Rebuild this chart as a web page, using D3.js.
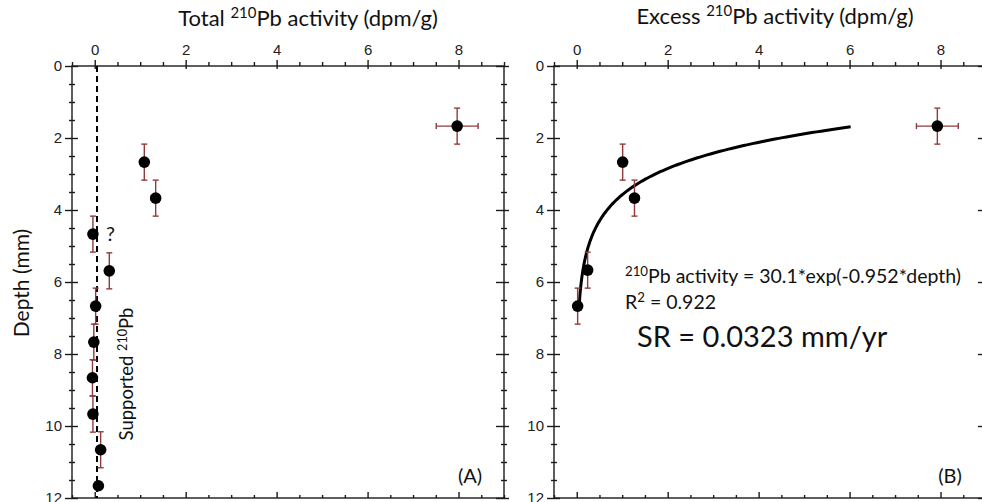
<!DOCTYPE html>
<html>
<head>
<meta charset="utf-8">
<script src="https://cdn.jsdelivr.net/npm/d3@7/dist/d3.min.js"></script>
<style>
  body { margin: 0; background: #fff; }
  .tick text { font-family: "Liberation Sans", Arial, sans-serif; font-size: 15px; fill: #222; }
  .tick line { stroke: #1a1a1a; stroke-width: 1.4; }
  .lbl { font-family: Lato, "Open Sans", sans-serif; fill: #111; }
</style>
</head>
<body>
<script>
// axis ticks
var xTicks = [0, 2, 4, 6, 8];
var yTicks = [0, 2, 4, 6, 8, 10, 12];

// panel A: total 210Pb
var totalDepth = [1.67, 2.67, 3.67, 4.67, 5.69, 6.67, 7.67, 8.66, 9.67, 10.66, 11.66];
var totalAct   = [7.97, 1.09, 1.34, -0.04, 0.32, 0.02, -0.02, -0.05, -0.04, 0.13, 0.08];
var totalXErr  = [0.46, 0.05, 0.1, 0, 0, 0, 0, 0, 0, 0.06, 0];
var totalYErr  = [0.5, 0.5, 0.5, 0.5, 0.5, 0.5, 0.5, 0.5, 0.5, 0.5, 0];
var supported = 0.05;

// panel B: excess 210Pb
var excessDepth = [1.67, 2.67, 3.67, 5.67, 6.67];
var excessAct   = [7.93, 1.01, 1.27, 0.24, 0.02];
var excessXErr  = [0.46, 0.05, 0.1, 0, 0];
var excessYErr  = [0.5, 0.5, 0.5, 0.5, 0.5];

// fit: activity = A*exp(-k*depth)
var fitA = 30.1, fitK = 0.952;
var fitDepthRange = [1.69, 6.7];

var width = 982, height = 502;
var yTop = 66, yBot = 498;
var errColor = "#8e3b3b";

var svg = d3.select("body").append("svg")
  .attr("width", width)
  .attr("height", height);

var y = d3.scaleLinear().domain([0, 12]).range([yTop, yBot]);
var minorX = d3.range(-0.5, 9.01, 0.5).filter(function(v) { return xTicks.indexOf(v) < 0; });
var minorY = d3.range(0, 12.01, 0.5).filter(function(v) { return yTicks.indexOf(v) < 0; });

function drawAxes(g, x, x0, x1) {
  function put(axis, tx, ty, labels) {
    var a = g.append("g").attr("transform", "translate(" + tx + "," + ty + ")").call(axis);
    a.select(".domain").remove();
    if (!labels) a.selectAll("text").remove();
    return a;
  }
  // top
  put(d3.axisTop(x).tickValues(xTicks).tickSize(6).tickPadding(5), 0, yTop, true);
  put(d3.axisBottom(x).tickValues(xTicks).tickSize(3), 0, yTop, false);
  put(d3.axisTop(x).tickValues(minorX).tickSize(4), 0, yTop, false);
  // bottom (inward ticks)
  put(d3.axisTop(x).tickValues(xTicks).tickSize(6), 0, yBot, false);
  put(d3.axisTop(x).tickValues(minorX).tickSize(3), 0, yBot, false);
  // left
  put(d3.axisLeft(y).tickValues(yTicks).tickSize(7).tickPadding(3), x0, 0, true);
  put(d3.axisRight(y).tickValues(yTicks).tickSize(6), x0, 0, false);
  put(d3.axisLeft(y).tickValues(minorY).tickSize(3), x0, 0, false);
  put(d3.axisRight(y).tickValues(minorY).tickSize(3), x0, 0, false);
  // right
  put(d3.axisLeft(y).tickValues(yTicks).tickSize(8), x1, 0, false);
  put(d3.axisRight(y).tickValues(yTicks).tickSize(5), x1, 0, false);
  put(d3.axisLeft(y).tickValues(minorY).tickSize(3), x1, 0, false);
  put(d3.axisRight(y).tickValues(minorY).tickSize(3), x1, 0, false);

  g.append("rect")
    .attr("x", x0).attr("y", yTop)
    .attr("width", x1 - x0).attr("height", yBot - yTop)
    .attr("fill", "none").attr("stroke", "#1a1a1a").attr("stroke-width", 1.4);
}

function drawPoints(g, x, depth, act, xerr, yerr) {
  var pts = depth.map(function(d, i) { return {d: d, a: act[i], xe: xerr[i], ye: yerr[i]}; });
  var eb = g.append("g").attr("stroke", errColor).attr("stroke-width", 1.4);
  pts.forEach(function(p) {
    if (p.ye > 0) {
      eb.append("line").attr("x1", x(p.a)).attr("x2", x(p.a)).attr("y1", y(p.d - p.ye)).attr("y2", y(p.d + p.ye));
      eb.append("line").attr("x1", x(p.a) - 3).attr("x2", x(p.a) + 3).attr("y1", y(p.d - p.ye)).attr("y2", y(p.d - p.ye));
      eb.append("line").attr("x1", x(p.a) - 3).attr("x2", x(p.a) + 3).attr("y1", y(p.d + p.ye)).attr("y2", y(p.d + p.ye));
    }
    if (p.xe > 0) {
      eb.append("line").attr("x1", x(p.a - p.xe)).attr("x2", x(p.a + p.xe)).attr("y1", y(p.d)).attr("y2", y(p.d));
      eb.append("line").attr("x1", x(p.a - p.xe)).attr("x2", x(p.a - p.xe)).attr("y1", y(p.d) - 3).attr("y2", y(p.d) + 3);
      eb.append("line").attr("x1", x(p.a + p.xe)).attr("x2", x(p.a + p.xe)).attr("y1", y(p.d) - 3).attr("y2", y(p.d) + 3);
    }
  });
  g.selectAll("circle.pt").data(pts).enter().append("circle")
    .attr("class", "pt")
    .attr("cx", function(p) { return x(p.a); })
    .attr("cy", function(p) { return y(p.d); })
    .attr("r", 5.8)
    .attr("fill", "#000");
}

function supText(g, x, yy, size, pre, sup, post, anchor) {
  var t = g.append("text").attr("class", "lbl").attr("x", x).attr("y", yy)
    .attr("font-size", size).attr("text-anchor", anchor || "start");
  if (pre) t.append("tspan").text(pre);
  t.append("tspan").attr("dy", -size * 0.35).attr("font-size", size * 0.68).text(sup);
  t.append("tspan").attr("dy", size * 0.35).text(post);
  return t;
}

// ---- panel A ----
var xA = d3.scaleLinear().domain([-0.5, 9]).range([72, 504]);
var gA = svg.append("g");
drawAxes(gA, xA, 72, 504);

gA.append("line")
  .attr("x1", xA(supported)).attr("x2", xA(supported))
  .attr("y1", yTop).attr("y2", yBot)
  .attr("stroke", "#000").attr("stroke-width", 2).attr("stroke-dasharray", "6,4");

drawPoints(gA, xA, totalDepth, totalAct, totalXErr, totalYErr);

supText(gA, 308, 26, 22, "Total ", "210", "Pb activity (dpm/g)", "middle");
gA.append("text").attr("class", "lbl").attr("font-size", 21)
  .attr("text-anchor", "middle")
  .attr("transform", "translate(29,283) rotate(-90)")
  .text("Depth (mm)");
gA.append("text").attr("class", "lbl").attr("font-size", 20)
  .attr("x", 106).attr("y", 241).text("?");
var sp = gA.append("g").attr("transform", "translate(133,374) rotate(-90)");
supText(sp, 0, 0, 18.5, "Supported ", "210", "Pb", "middle");
gA.append("text").attr("class", "lbl").attr("font-size", 20)
  .attr("x", 470).attr("y", 483).attr("text-anchor", "middle").text("(A)");

// ---- panel B ----
var xB = d3.scaleLinear().domain([-0.5, 9]).range([554, 986]);
var gB = svg.append("g");
drawAxes(gB, xB, 554, 986);

var fitPts = d3.range(fitDepthRange[0], fitDepthRange[1] + 0.001, 0.02).map(function(d) {
  return [fitA * Math.exp(-fitK * d), d];
});
gB.append("path")
  .datum(fitPts)
  .attr("fill", "none").attr("stroke", "#000").attr("stroke-width", 3)
  .attr("d", d3.line().x(function(p) { return xB(p[0]); }).y(function(p) { return y(p[1]); }));

drawPoints(gB, xB, excessDepth, excessAct, excessXErr, excessYErr);

supText(gB, 775, 24, 22, "Excess ", "210", "Pb activity (dpm/g)", "middle");
supText(gB, 625, 283, 19.5, "", "210", "Pb activity = 30.1*exp(-0.952*depth)");
supText(gB, 625, 309, 19.5, "R", "2", " = 0.922");
gB.append("text").attr("class", "lbl").attr("font-size", 29)
  .attr("x", 637).attr("y", 347).text("SR = 0.0323 mm/yr");
gB.append("text").attr("class", "lbl").attr("font-size", 20)
  .attr("x", 950).attr("y", 483).attr("text-anchor", "middle").text("(B)");
</script>
</body>
</html>
